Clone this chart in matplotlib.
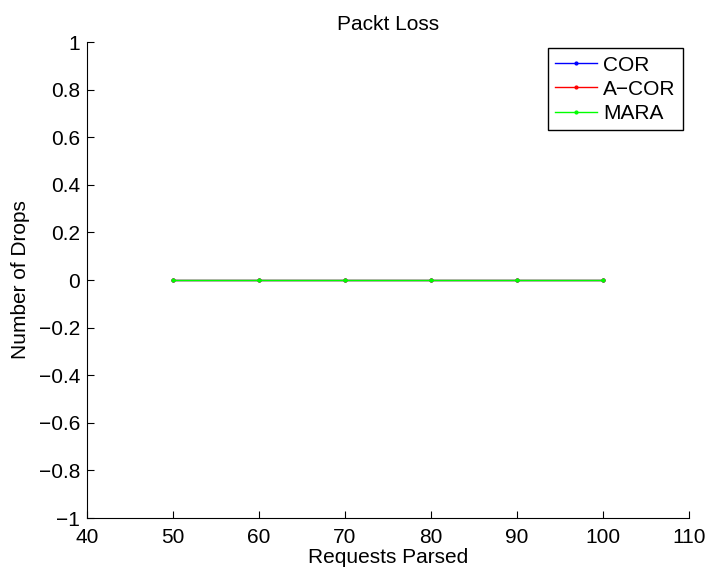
import matplotlib
matplotlib.use("Agg")
import matplotlib.pyplot as plt

plt.rcParams['font.family'] = ['Liberation Sans', 'DejaVu Sans']

requests = [50, 60, 70, 80, 90, 100]
cor = [0, 0, 0, 0, 0, 0]
acor = [0, 0, 0, 0, 0, 0]
mara = [0, 0, 0, 0, 0, 0]

xticks = [40, 50, 60, 70, 80, 90, 100, 110]
yticks = [-1, -0.8, -0.6, -0.4, -0.2, 0, 0.2, 0.4, 0.6, 0.8, 1]
yticklabels = ['\u22121', '\u22120.8', '\u22120.6', '\u22120.4', '\u22120.2', '0',
               '0.2', '0.4', '0.6', '0.8', '1']

fig = plt.figure(figsize=(7.09, 5.72), dpi=100)
ax = fig.add_axes([87/709, 1-518/572, (689-87)/709, (518-42)/572])

ax.plot(requests, cor, color=(0, 0, 1), marker='.', markersize=4, lw=1, label='COR')
ax.plot(requests, acor, color=(1, 0, 0), marker='.', markersize=4, lw=1, label='A\u2212COR')
ax.plot(requests, mara, color=(0, 1, 0), marker='.', markersize=4, lw=1, label='MARA')

ax.set_xlim(40, 110)
ax.set_ylim(-1, 1)
ax.set_xticks(xticks)
ax.set_yticks(yticks)
ax.set_yticklabels(yticklabels)
ax.tick_params(direction='in', length=5, labelsize=15, width=0.8)
ax.tick_params(axis='x', pad=7)
ax.tick_params(axis='y', pad=5)
for s in ['top', 'right']:
    ax.spines[s].set_visible(False)
for s in ['left', 'bottom']:
    ax.spines[s].set_linewidth(0.8)

ax.set_title('Packt Loss', fontsize=15, pad=9)
ax.set_xlabel('Requests Parsed', fontsize=15, labelpad=1)
ax.set_ylabel('Number of Drops', fontsize=15, labelpad=6)

leg = ax.legend(loc='upper right', fontsize=15, frameon=True, fancybox=False,
                edgecolor='black', framealpha=1, handlelength=2.0,
                labelspacing=0.25, borderpad=0.35, handletextpad=0.3,
                borderaxespad=0.3)
leg.get_frame().set_linewidth(1.0)

fig.savefig('out.png', dpi=100)
